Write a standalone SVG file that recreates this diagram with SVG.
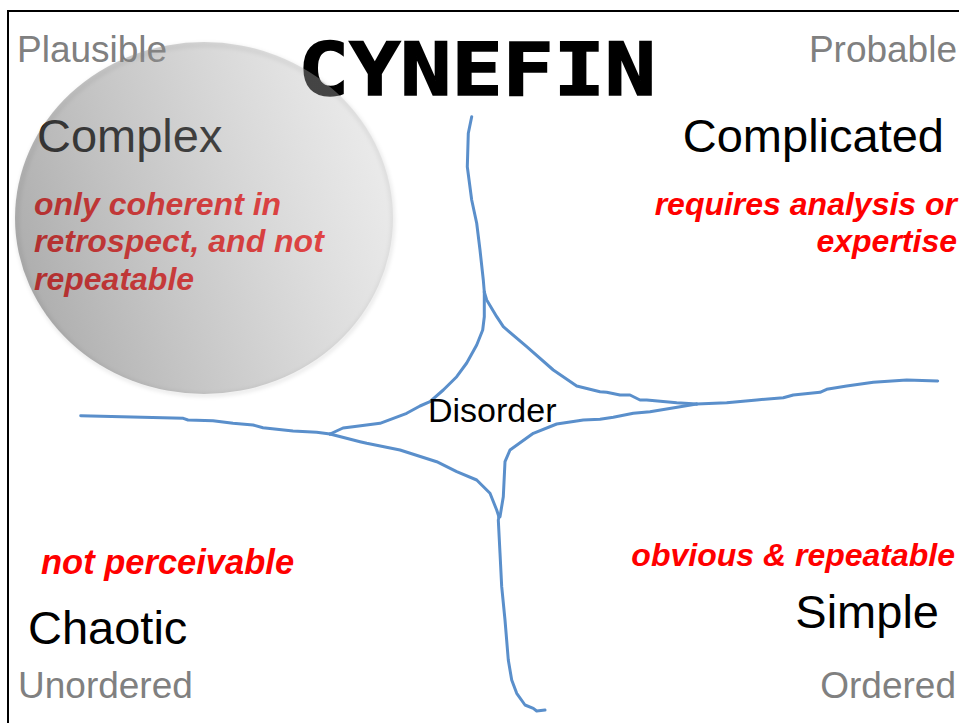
<svg xmlns="http://www.w3.org/2000/svg" width="959" height="723" viewBox="0 0 959 723">
<style>
.corner{font-family:"Liberation Sans",Arial,sans-serif;font-size:37px;fill:#808080}
.domain{font-family:"Liberation Sans",Arial,sans-serif;font-size:47px;fill:#000}
.note{font-family:"Liberation Sans",Arial,sans-serif;font-size:32px;font-weight:bold;font-style:italic;fill:#ff0000}
.title{font-family:"DejaVu Sans Mono","Liberation Mono",monospace;font-size:73px;font-weight:bold;fill:#000;stroke:#000;stroke-width:1.6}
.line{fill:none;stroke:#5a8fcb;stroke-width:3;stroke-linejoin:round;stroke-linecap:round}
</style>
<defs>
<linearGradient id="circGrad" x1="0" y1="0.65" x2="1" y2="0.35">
<stop offset="0" stop-color="#5a5a5a" stop-opacity="0.5"/>
<stop offset="0.5" stop-color="#909090" stop-opacity="0.43"/>
<stop offset="1" stop-color="#c6c6c6" stop-opacity="0.35"/>
</linearGradient>
<filter id="blur" x="-10%" y="-10%" width="120%" height="120%">
<feGaussianBlur stdDeviation="2"/>
</filter>
</defs>
<rect x="0" y="0" width="959" height="723" fill="#ffffff"/>
<g id="frame" fill="none" stroke="#000" stroke-width="2">
<polyline points="8,723 8,11 959,11"/>
</g>
<g id="title"><text class="title" x="298" y="95" textLength="358" lengthAdjust="spacingAndGlyphs">CYNEFIN</text></g>
<g id="plausible"><text class="corner" x="17" y="62">Plausible</text></g>
<g id="probable"><text class="corner" x="957" y="62" text-anchor="end">Probable</text></g>
<g id="complex">
<text class="domain" x="37" y="152">Complex</text>
<text class="note" x="34" y="215">only coherent in</text>
<text class="note" x="34" y="252">retrospect, and not</text>
<text class="note" x="34" y="290">repeatable</text>
</g>
<g id="complicated">
<text class="domain" x="944" y="152" text-anchor="end">Complicated</text>
<text class="note" x="957" y="215" text-anchor="end">requires analysis or</text>
<text class="note" x="957" y="252" text-anchor="end">expertise</text>
</g>
<g id="connectors">
<polyline class="line" points="471.7,116.7 468.3,133.3 467.3,166.7 471.7,200 476.7,223.3 480,250 483.3,280 484.3,292"/>
<polyline class="line" points="484.3,292 484.3,316.7 482.7,330 476.7,345 466.7,363 456.7,376.7 443.3,390 430,401.7 420,406 406.7,413.3 380,423.3 353,426.7 343,428 330,434"/>
<polyline class="line" points="484.3,292 486.7,300 496.7,316.7 503.3,326.7 526.7,346.7 553.3,370 576.7,386 600,391.7 606.7,392.3 620,395 630,395 640,400 646.7,400 676.7,402.7 696.7,404"/>
<polyline class="line" points="80.7,415.7 183.3,418.3 188,420 213,420.7 233,423.3 253,425 263,427.7 293,431 316.7,432.3 330,434"/>
<polyline class="line" points="330,434 360,441.7 366.7,443.3 400,450 436.7,461.7 456.7,471.7 476.7,480 490,493.3 496.7,510 499,517"/>
<polyline class="line" points="937.7,381 906.7,380 873.3,382.3 846.7,386 826.7,389.3 820,392.3 793.3,395 783.3,397.7 756.7,400 726.7,402.7 696.7,404"/>
<polyline class="line" points="696.7,404 650,411.7 633.3,413.3 613.3,417.3 600,419.3 583.3,420 556.7,424 533.3,433.3 510,450 505,461.7 503.3,496.7 500,516.7 499,517"/>
<polyline class="line" points="499,517 498.3,520 500,553 501.7,586.7 505,620 508.3,660 511.7,680 516.7,693.3 525,705 533.3,708.3 536.7,711 545,710"/>
</g>
<g id="disorder"><text class="domain" x="428" y="422" style="font-size:34px">Disorder</text></g>
<g id="chaotic">
<text class="note" x="41" y="574" style="font-size:34.5px">not perceivable</text>
<text class="domain" x="28" y="644">Chaotic</text>
</g>
<g id="unordered"><text class="corner" x="18" y="698">Unordered</text></g>
<g id="simple">
<text class="note" x="955" y="566" text-anchor="end">obvious &amp; repeatable</text>
<text class="domain" x="939" y="628" text-anchor="end">Simple</text>
</g>
<g id="ordered"><text class="corner" x="956" y="698" text-anchor="end">Ordered</text></g>
<g id="circle">
<ellipse cx="205" cy="220" rx="188" ry="175" fill="none" stroke="#000" stroke-opacity="0.12" stroke-width="3" filter="url(#blur)"/>
<ellipse cx="204" cy="218" rx="189" ry="176" fill="url(#circGrad)"/>
</g>
</svg>
